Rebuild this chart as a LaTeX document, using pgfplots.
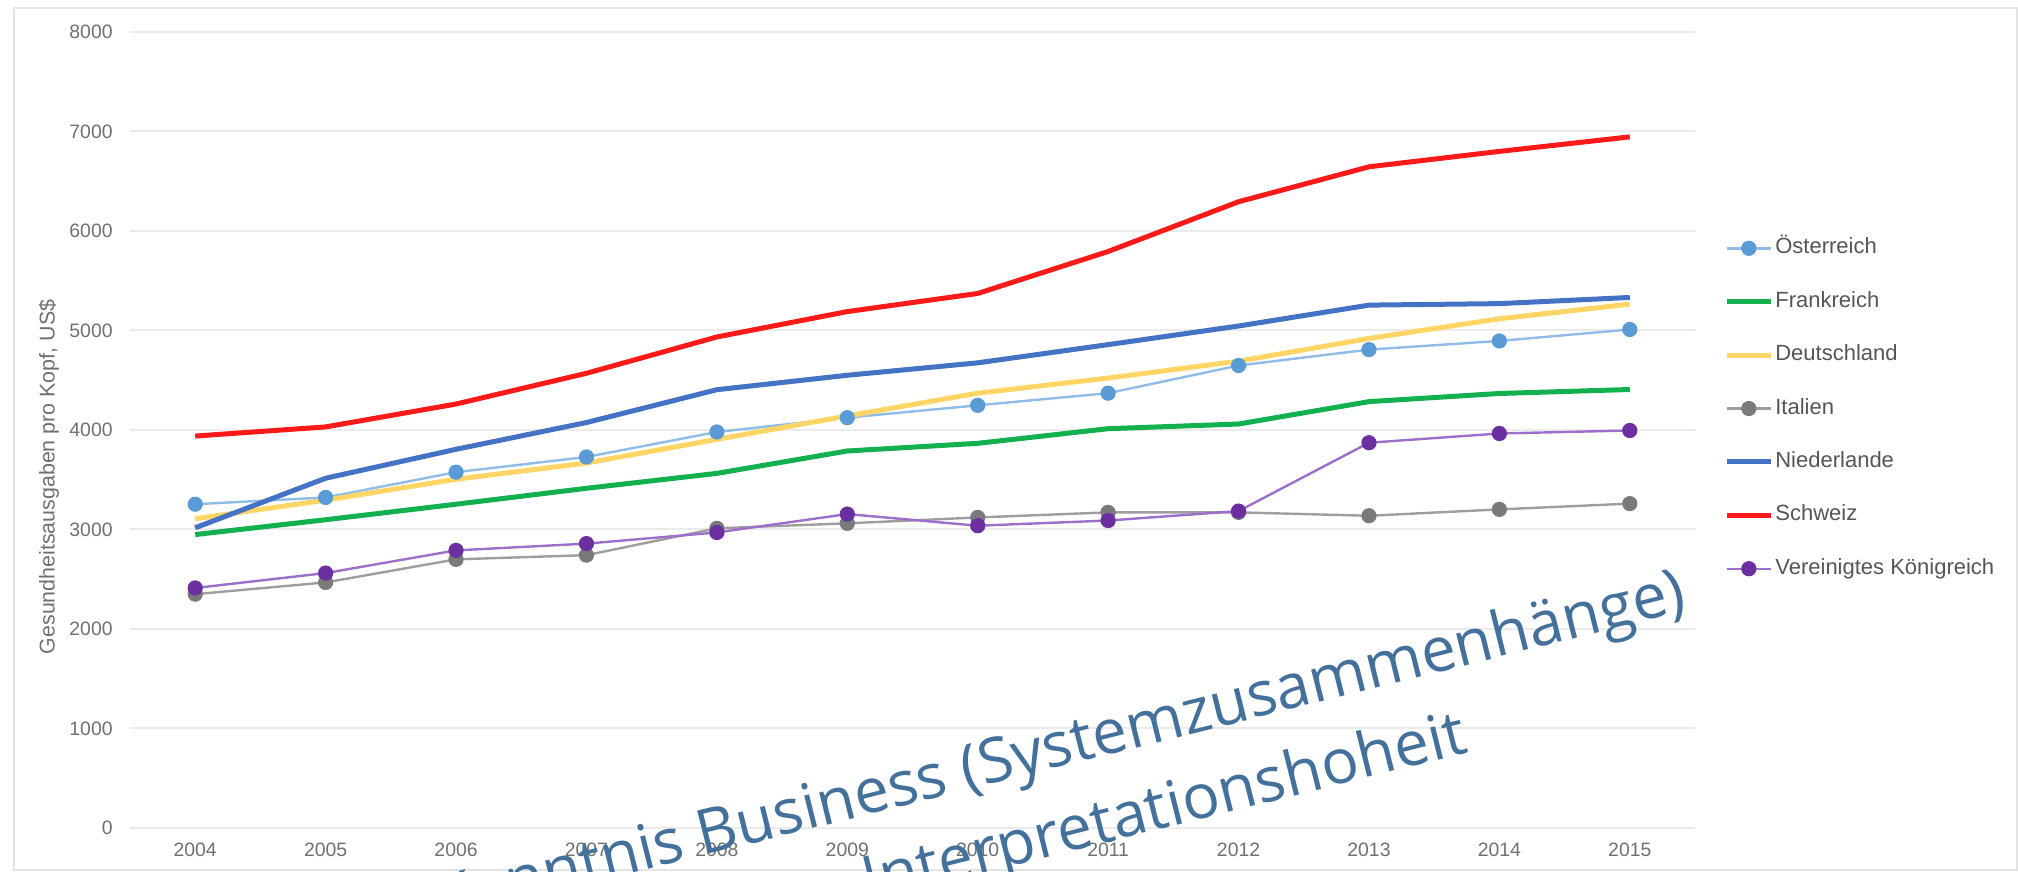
\documentclass[border=0pt]{standalone}
\usepackage{fontspec}
\setmainfont{Liberation Sans}
\newfontfamily\wmfont{Open Sans}
\usepackage{pgfplots}
\pgfplotsset{compat=1.18}

\definecolor{framegray}{HTML}{E4E4E4}
\definecolor{gridgray}{HTML}{EBEBEB}
\definecolor{tickgray}{HTML}{707070}
\definecolor{legendgray}{HTML}{555555}
\definecolor{wmblue}{HTML}{44719C}
\definecolor{atline}{HTML}{8FBCE8}
\definecolor{atmark}{HTML}{5B9BD5}
\definecolor{frgreen}{HTML}{12B04F}
\definecolor{deyellow}{HTML}{FFD666}
\definecolor{itline}{HTML}{9E9E9E}
\definecolor{itmark}{HTML}{7A7A7A}
\definecolor{nlblue}{HTML}{4472C4}
\definecolor{chred}{HTML}{FF1A1A}
\definecolor{ukline}{HTML}{9C6FCB}
\definecolor{ukmark}{HTML}{6B2FA0}

\begin{document}
\begin{tikzpicture}[x=1pt,y=1pt]
\useasboundingbox (0,0) rectangle (1009,436);
\draw[color=framegray, line width=0.9pt] (7,1) rectangle (1008.5,432);
\begin{axis}[
  at={(65pt,22pt)}, anchor=south west,
  scale only axis, width=782.5pt, height=398pt,
  xmin=2003.5, xmax=2015.5, ymin=0, ymax=8000,
  xtick={2004,2005,2006,2007,2008,2009,2010,2011,2012,2013,2014,2015},
  ytick={0,1000,2000,3000,4000,5000,6000,7000,8000},
  /pgf/number format/1000 sep={},
  /pgf/number format/assume math mode=true,
  axis line style={draw=none},
  major tick length=0pt,
  ymajorgrids, grid style={color=gridgray, line width=1pt},
  tick label style={font=\fontsize{9.7}{11}\selectfont, text=tickgray},
  yticklabel style={inner sep=0pt, anchor=east, xshift=-8.5pt},
  xticklabel style={inner sep=0pt, anchor=north, yshift=-7.5pt},
  ylabel={Gesundheitsausgaben pro Kopf, US\$},
  ylabel style={at={(axis description cs:-0.0518,0.441)}, anchor=center,
    font=\fontsize{10.7}{12}\selectfont, text=tickgray},
  legend cell align=left,
  legend style={at={(axis description cs:1.0185,0.527)}, anchor=west,
    draw=none, fill=none, font=\fontsize{11}{13}\selectfont, text=legendgray,
    row sep=14.2pt, column sep=0pt, inner sep=0pt,
    nodes={inner sep=1pt, text height=8pt, text depth=2.5pt}},
  legend image code/.code={\draw[mark repeat=2,mark phase=2,#1] plot coordinates {(0pt,0pt) (11pt,0pt) (22pt,0pt)};},
]
\addplot[color=atline, line width=1.2pt, mark=*, mark size=3.2pt, mark options={fill=atmark, draw=atmark}] coordinates {
(2004,3254) (2005,3322) (2006,3576) (2007,3729) (2008,3980) (2009,4124)
(2010,4248) (2011,4370) (2012,4648) (2013,4808) (2014,4895) (2015,5010)};
\addlegendentry{Österreich}
\addplot[color=frgreen, line width=2.5pt] coordinates {
(2004,2949) (2005,3098) (2006,3254) (2007,3414) (2008,3564) (2009,3789)
(2010,3866) (2011,4013) (2012,4060) (2013,4285) (2014,4367) (2015,4407)};
\addlegendentry{Frankreich}
\addplot[color=deyellow, line width=2.5pt] coordinates {
(2004,3108) (2005,3295) (2006,3505) (2007,3668) (2008,3906) (2009,4141)
(2010,4370) (2011,4522) (2012,4692) (2013,4920) (2014,5118) (2015,5265)};
\addlegendentry{Deutschland}
\addplot[color=itline, line width=1.2pt, mark=*, mark size=3.2pt, mark options={fill=itmark, draw=itmark}] coordinates {
(2004,2350) (2005,2468) (2006,2700) (2007,2742) (2008,3012) (2009,3062)
(2010,3121) (2011,3172) (2012,3172) (2013,3138) (2014,3202) (2015,3260)};
\addlegendentry{Italien}
\addplot[color=nlblue, line width=2.5pt] coordinates {
(2004,3017) (2005,3515) (2006,3806) (2007,4075) (2008,4405) (2009,4550)
(2010,4675) (2011,4858) (2012,5045) (2013,5255) (2014,5270) (2015,5332)};
\addlegendentry{Niederlande}
\addplot[color=chred, line width=2.5pt] coordinates {
(2004,3939) (2005,4031) (2006,4261) (2007,4570) (2008,4935) (2009,5190)
(2010,5372) (2011,5794) (2012,6294) (2013,6645) (2014,6800) (2015,6946)};
\addlegendentry{Schweiz}
\addplot[color=ukline, line width=1.2pt, mark=*, mark size=3.2pt, mark options={fill=ukmark, draw=ukmark}] coordinates {
(2004,2412) (2005,2562) (2006,2790) (2007,2858) (2008,2970) (2009,3155)
(2010,3038) (2011,3090) (2012,3185) (2013,3872) (2014,3965) (2015,3995)};
\addlegendentry{Vereinigtes Königreich}
\end{axis}
\begin{scope}
\clip (0,0) rectangle (1009,436);
\node[font=\wmfont\fontsize{31}{40}\selectfont, text=wmblue, rotate=14.0, anchor=base east, inner sep=0pt] at (844.5,131) {Kenntnis Business (Systemzusammenhänge)};
\node[font=\wmfont\fontsize{31}{40}\selectfont, text=wmblue, rotate=14.0, anchor=base east, inner sep=0pt] at (735,60) {Interpretationshoheit};
\end{scope}
\end{tikzpicture}
\end{document}
